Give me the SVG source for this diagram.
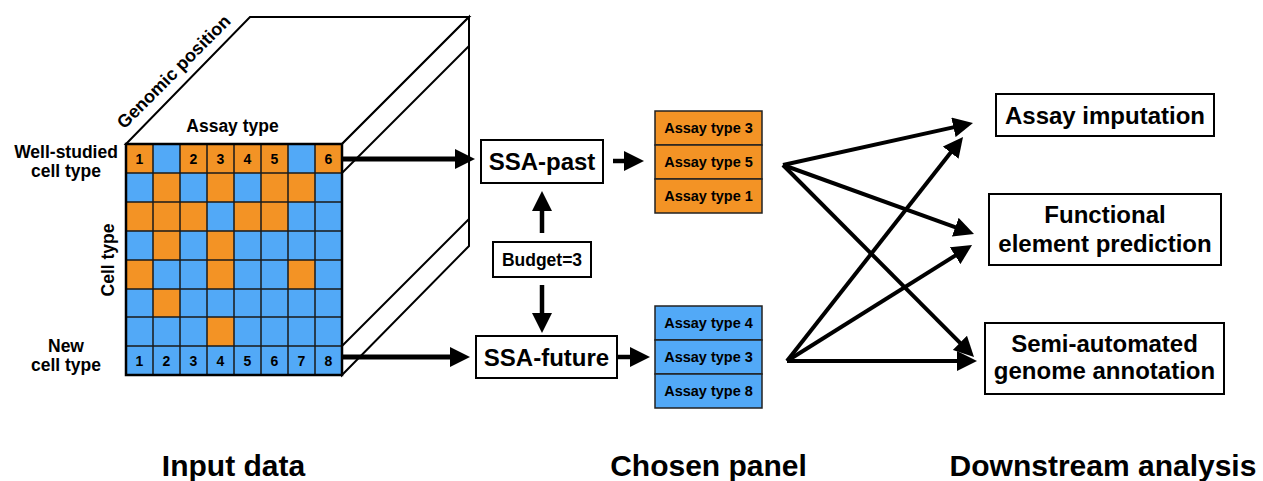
<svg xmlns="http://www.w3.org/2000/svg" width="1263" height="481" viewBox="0 0 1263 481">
<defs>
<style>
text{font-family:"Liberation Sans",Arial,Helvetica,sans-serif;font-weight:bold;fill:#000;text-anchor:middle}
.cube{fill:#fff;stroke:#000;stroke-width:2;stroke-linejoin:miter}
.box{fill:#fff;stroke:#000;stroke-width:2}
.o{fill:#F39325}
.gl{stroke:#1a1a1a;stroke-width:1.5;fill:none}
.lbl{font-size:17.5px}
.num{font-size:14px}
.pan{font-size:14.5px}
.big{font-size:24px}
.mid{font-size:24px}
.title{font-size:30px}
.arr{stroke:#000;fill:none;marker-end:url(#ah)}
</style>
<marker id="ah" markerUnits="userSpaceOnUse" markerWidth="20" markerHeight="20" viewBox="0 0 20 20" refX="2" refY="10" orient="auto">
<path d="M0,0 L20,10 L0,20 z" fill="#000"/>
</marker>
</defs>
<rect width="1263" height="481" fill="#fff"/>

<g id="cube">
<polygon class="cube" points="126,144 250,17 469,17 342,144"/>
<polygon class="cube" points="342,144 469,17 469,246 342,375"/>
<line class="cube" x1="342" y1="173" x2="469" y2="46"/>
<line class="cube" x1="342" y1="346" x2="469" y2="219"/>
<text class="lbl" style="font-size:18px" transform="translate(178,76) rotate(-45)" x="0" y="0">Genomic position</text>
<text class="lbl" x="232.5" y="131.5">Assay type</text>
</g>

<g id="grid">
<rect x="126" y="144" width="216" height="231" fill="#52A9F7"/>
<g class="o">
<rect x="126" y="144" width="27" height="29"/><rect x="180" y="144" width="27" height="29"/><rect x="207" y="144" width="27" height="29"/><rect x="234" y="144" width="27" height="29"/><rect x="261" y="144" width="27" height="29"/><rect x="315" y="144" width="27" height="29"/>
<rect x="153" y="173" width="27" height="29"/><rect x="207" y="173" width="27" height="29"/><rect x="261" y="173" width="27" height="29"/><rect x="288" y="173" width="27" height="29"/>
<rect x="126" y="202" width="27" height="29"/><rect x="153" y="202" width="27" height="29"/><rect x="180" y="202" width="27" height="29"/><rect x="234" y="202" width="27" height="29"/><rect x="261" y="202" width="27" height="29"/>
<rect x="153" y="231" width="27" height="29"/><rect x="207" y="231" width="27" height="29"/>
<rect x="126" y="260" width="27" height="29"/><rect x="207" y="260" width="27" height="29"/><rect x="288" y="260" width="27" height="29"/>
<rect x="153" y="289" width="27" height="28"/>
<rect x="207" y="317" width="27" height="29"/>
</g>
<path class="gl" d="M153,144V375M180,144V375M207,144V375M234,144V375M261,144V375M288,144V375M315,144V375M126,173H342M126,202H342M126,231H342M126,260H342M126,289H342M126,317H342M126,346H342"/>
<rect x="126" y="144" width="216" height="231" fill="none" stroke="#000" stroke-width="2.5"/>
<g class="num">
<text x="139.5" y="163.5">1</text><text x="193.5" y="163.5">2</text><text x="220.5" y="163.5">3</text><text x="247.5" y="163.5">4</text><text x="274.5" y="163.5">5</text><text x="328.5" y="163.5">6</text>
<text x="139.5" y="365.5">1</text><text x="166.5" y="365.5">2</text><text x="193.5" y="365.5">3</text><text x="220.5" y="365.5">4</text><text x="247.5" y="365.5">5</text><text x="274.5" y="365.5">6</text><text x="301.5" y="365.5">7</text><text x="328.5" y="365.5">8</text>
</g>
</g>

<g id="row-labels">
<text class="lbl" x="66" y="158">Well-studied</text>
<text class="lbl" x="66" y="177">cell type</text>
<text class="lbl" x="66" y="352">New</text>
<text class="lbl" x="66" y="371">cell type</text>
<text class="lbl" transform="translate(114,260) rotate(-90)" x="0" y="0">Cell type</text>
</g>

<g id="ssa-past">
<rect class="box" x="481" y="140" width="122" height="43"/>
<text class="big" x="542" y="170">SSA-past</text>
</g>
<g id="ssa-future">
<rect class="box" x="476" y="336" width="141" height="42"/>
<text class="big" x="546.5" y="366">SSA-future</text>
</g>
<g id="budget">
<rect class="box" x="493" y="242" width="98" height="35"/>
<text class="lbl" x="542" y="265.5">Budget=3</text>
</g>

<g id="panel-past">
<rect x="655" y="111" width="107" height="34" class="o" stroke="#222" stroke-width="1.5"/>
<rect x="655" y="145" width="107" height="34" class="o" stroke="#222" stroke-width="1.5"/>
<rect x="655" y="179" width="107" height="34" class="o" stroke="#222" stroke-width="1.5"/>
<text class="pan" x="708.5" y="133">Assay type 3</text>
<text class="pan" x="708.5" y="167">Assay type 5</text>
<text class="pan" x="708.5" y="201">Assay type 1</text>
</g>
<g id="panel-future">
<rect x="655" y="306" width="107" height="34" fill="#52A9F7" stroke="#222" stroke-width="1.5"/>
<rect x="655" y="340" width="107" height="34" fill="#52A9F7" stroke="#222" stroke-width="1.5"/>
<rect x="655" y="374" width="107" height="34" fill="#52A9F7" stroke="#222" stroke-width="1.5"/>
<text class="pan" x="708.5" y="328">Assay type 4</text>
<text class="pan" x="708.5" y="362">Assay type 3</text>
<text class="pan" x="708.5" y="396">Assay type 8</text>
</g>

<g id="assay-imputation">
<rect class="box" x="996" y="94" width="218" height="42"/>
<text class="mid" x="1105" y="123.5">Assay imputation</text>
</g>
<g id="functional-element">
<rect class="box" x="989" y="194" width="232" height="71"/>
<text class="mid" x="1105" y="223">Functional</text>
<text class="mid" x="1105" y="251.5">element prediction</text>
</g>
<g id="semi-automated">
<rect class="box" x="985" y="323" width="239" height="71"/>
<text class="mid" x="1104.5" y="352">Semi-automated</text>
<text class="mid" x="1104.5" y="379">genome annotation</text>
</g>

<g id="connectors">
<line class="arr" stroke-width="5" x1="342" y1="159" x2="457" y2="159"/>
<line class="arr" stroke-width="5" x1="342" y1="357" x2="452" y2="357"/>
<line class="arr" stroke-width="4.5" x1="542" y1="233" x2="542" y2="209"/>
<line class="arr" stroke-width="4.5" x1="542" y1="285" x2="542" y2="315"/>
<line class="arr" stroke-width="4.5" x1="613" y1="161" x2="626" y2="161"/>
<line class="arr" stroke-width="4.5" x1="617" y1="357" x2="632" y2="357"/>
<line class="arr" stroke-width="4" x1="783" y1="165" x2="955.4" y2="126.9"/>
<line class="arr" stroke-width="4" x1="783" y1="165" x2="957.1" y2="227.9"/>
<line class="arr" stroke-width="4" x1="783" y1="165" x2="961.3" y2="344.2"/>
<line class="arr" stroke-width="4" x1="787" y1="361" x2="951.9" y2="151.1"/>
<line class="arr" stroke-width="4" x1="787" y1="361" x2="956.8" y2="254.6"/>
<line class="arr" stroke-width="4" x1="787" y1="361" x2="959" y2="361"/>
</g>

<g id="titles">
<text class="title" x="233.5" y="476">Input data</text>
<text class="title" x="708.5" y="476">Chosen panel</text>
<text class="title" x="1103" y="476">Downstream analysis</text>
</g>
</svg>
